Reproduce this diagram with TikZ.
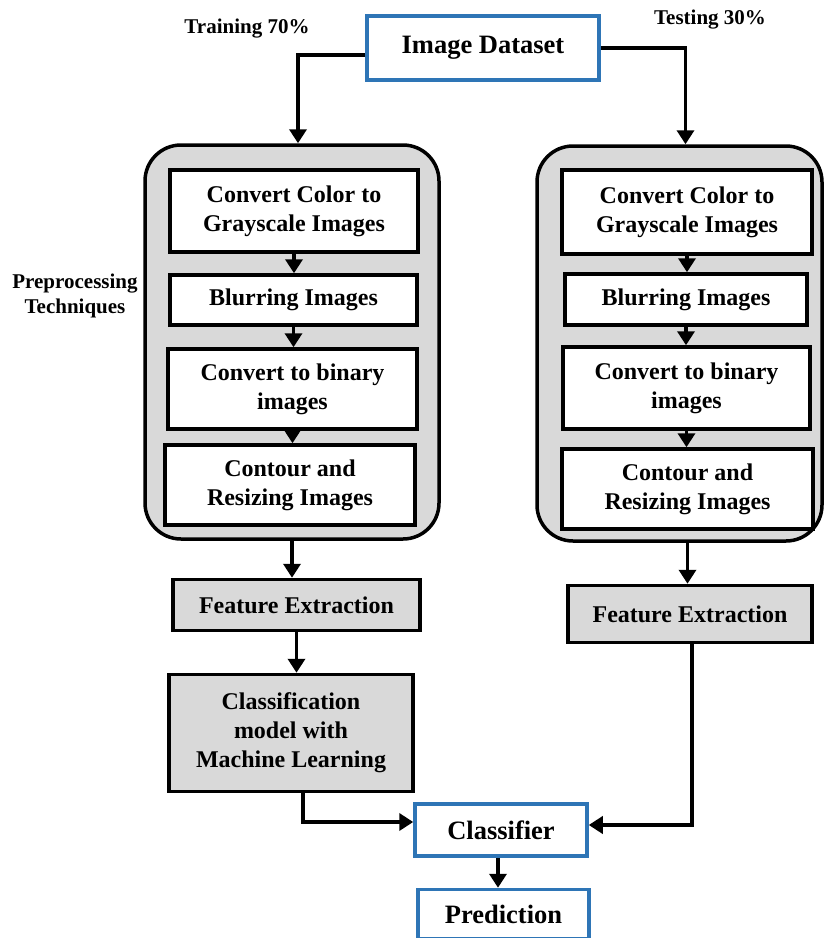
\documentclass[tikz,border=0pt]{standalone}
\usepackage{fontspec}
\setmainfont{Liberation Serif}
\usetikzlibrary{arrows.meta}
\definecolor{boxblue}{RGB}{46,117,182}
\definecolor{boxgray}{RGB}{217,217,217}
\tikzstyle{bluebox} = [rectangle, draw=boxblue, line width=3.5pt, fill=white, inner sep=0pt, align=center, font=\bfseries\fontsize{26.5}{31}\selectfont]
\tikzstyle{stepbox} = [rectangle, draw=black, line width=3.5pt, fill=white, inner sep=0pt, align=center, font=\bfseries\fontsize{24}{29}\selectfont]
\tikzstyle{graybox} = [stepbox, fill=boxgray]
\tikzstyle{group} = [rectangle, rounded corners=36pt, draw=black, line width=3.5pt, fill=boxgray, inner sep=0pt]
\tikzstyle{label} = [inner sep=0pt, align=center, font=\bfseries\fontsize{21}{25}\selectfont]
\tikzstyle{arr} = [line width=3.5pt, -{Triangle[length=14pt,width=17pt]}]

\begin{document}
\begin{tikzpicture}[x=1pt, y=-1pt]
      \useasboundingbox (0,0) rectangle (824,938);
      \node[bluebox, minimum width=232pt, minimum height=64pt] (dataset) at (483,48) {Image Dataset};
      \node[label] (train) at (247,29) {Training 70\%};
      \node[label] (test) at (710,20) {Testing 30\%};
      \node[label] (prep) at (75,296) {Preprocessing\\Techniques};
      \node[group, minimum width=294pt, minimum height=394pt] (preL) at (292,342) {};
      \node[group, minimum width=285pt, minimum height=395pt] (preR) at (679.5,343.5) {};
      \node[stepbox, minimum width=248pt, minimum height=82pt] (grayL) at (294,211) {Convert Color to\\Grayscale Images};
      \node[stepbox, minimum width=247pt, minimum height=50pt] (blurL) at (293.5,300) {Blurring Images};
      \node[stepbox, minimum width=249pt, minimum height=80pt] (binL) at (292.5,389) {Convert to binary\\images};
      \node[stepbox, minimum width=250pt, minimum height=80pt] (contL) at (290,485) {Contour and\\Resizing Images};
      \node[stepbox, minimum width=250pt, minimum height=84pt] (grayR) at (687,212) {Convert Color to\\Grayscale Images};
      \node[stepbox, minimum width=242pt, minimum height=51pt] (blurR) at (686,299.5) {Blurring Images};
      \node[stepbox, minimum width=247pt, minimum height=82pt] (binR) at (686.5,388) {Convert to binary\\images};
      \node[stepbox, minimum width=251pt, minimum height=80pt] (contR) at (687.5,489) {Contour and\\Resizing Images};
      \node[graybox, minimum width=247pt, minimum height=51pt] (featL) at (296.5,605) {Feature Extraction};
      \node[graybox, minimum width=244pt, minimum height=57pt] (featR) at (690,614) {Feature Extraction};
      \node[graybox, minimum width=244pt, minimum height=117pt] (model) at (291,733) {Classification\\model with\\Machine Learning};
      \node[bluebox, minimum width=172pt, minimum height=52pt] (classifier) at (501,830) {Classifier};
      \node[bluebox, minimum width=171pt, minimum height=49pt] (prediction) at (503.5,914) {Prediction};
      \draw[arr] ([yshift=-7pt]dataset.west) -| ([xshift=6pt]preL.north);
      \draw[arr] (dataset.east) -| ([xshift=6pt]preR.north);
      \draw[arr] (grayL.south) -- (grayL.south |- blurL.north);
      \draw[arr] (blurL.south) -- (blurL.south |- binL.north);
      \draw[arr] (binL.south) -- (binL.south |- contL.north);
      \draw[arr] (grayR.south) -- (grayR.south |- blurR.north);
      \draw[arr] (blurR.south) -- (blurR.south |- binR.north);
      \draw[arr] (binR.south) -- (binR.south |- contR.north);
      \draw[arr] (preL.south) -- (preL.south |- featL.north);
      \draw[arr] ([xshift=8pt]preR.south) -- ([xshift=8pt]preR.south |- featR.north);
      \draw[arr] (featL.south) -- (featL.south |- model.north);
      \draw[arr] ([xshift=12pt]model.south) |- ([yshift=8pt]classifier.west);
      \draw[arr] ([xshift=2pt]featR.south) |- ([yshift=5pt]classifier.east);
      \draw[arr] ([xshift=-3pt]classifier.south) -- ([xshift=-3pt]classifier.south |- prediction.north);
    \end{tikzpicture}
\end{document}
